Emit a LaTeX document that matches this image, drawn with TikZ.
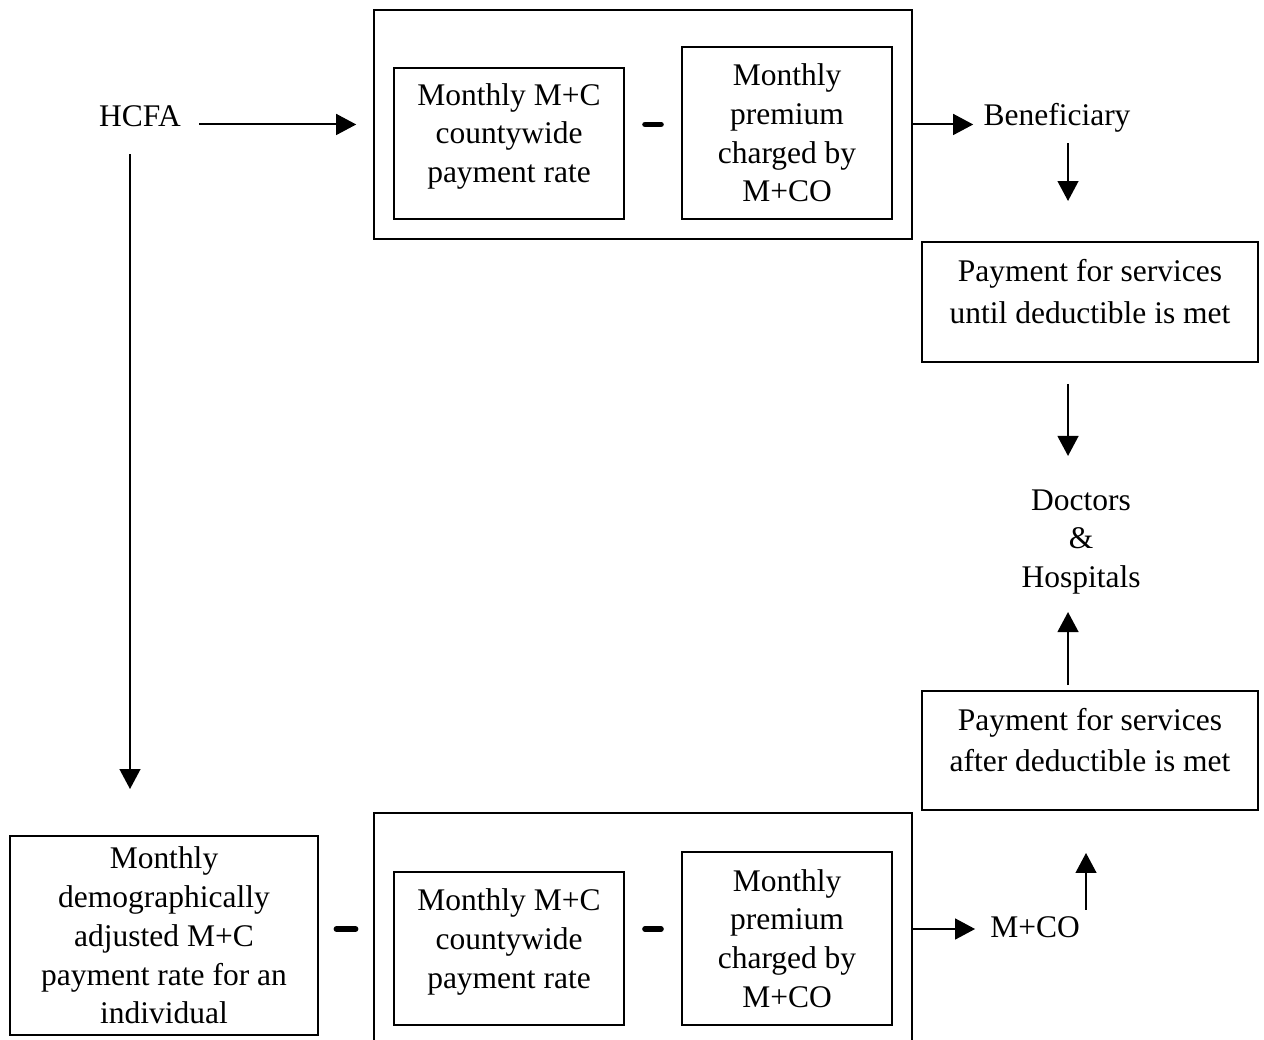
\documentclass[tikz,border=0pt]{standalone}
\usepackage{fontspec}
\setmainfont{Liberation Serif}
\usetikzlibrary{arrows.meta,calc}

\tikzset{
  box/.style={draw, align=center, inner sep=0pt},
  txt/.style={align=center},
  wide/.style={align=center, font=\fontsize{11.2}{14.9}\selectfont},
  minus/.style={line width=2pt, line cap=round},
}

\begin{document}
\begin{tikzpicture}[>={Triangle[length=0.25cm,width=0.26cm]}, line width=0.7pt,
  font=\fontsize{11.2}{13.8}\selectfont]

\clip (0,0) rectangle (15.8,-13);

% top row
\node[txt, anchor=base] (hcfa) at (1.75,-1.5875) {HCFA};
\node[box, minimum width=6.725cm, minimum height=2.8625cm] (topbox) at (8.0375,-1.556) {};
\node[box, minimum width=2.875cm, minimum height=1.8875cm] (topleft) at (6.3625,-1.794) {};
\node[txt] (topleftlbl) at ([yshift=0.09cm]topleft.center) {Monthly M+C\\countywide\\payment rate};
\node[box, minimum width=2.625cm, minimum height=2.15cm] (topright) at (9.8375,-1.6625)
  {Monthly\\premium\\charged by\\M+CO};
\node[txt, anchor=base] (ben) at (13.2125,-1.575) {Beneficiary};

% right column
\node[box, minimum width=4.2cm, minimum height=1.5cm] (untilbox) at (13.625,-3.775) {};
\node[wide] (untillbl) at ([yshift=0.125cm]untilbox.center) {Payment for services\\until deductible is met};
\node[txt] (doctors) at (13.5125,-6.775) {Doctors\\\&\\Hospitals};
\node[box, minimum width=4.2cm, minimum height=1.4875cm] (afterbox) at (13.625,-9.381) {};
\node[wide] (afterlbl) at ([yshift=0.13cm]afterbox.center) {Payment for services\\after deductible is met};

% bottom row
\node[box, minimum width=3.85cm, minimum height=2.4875cm] (leftbox) at (2.05,-11.694)
  {Monthly\\demographically\\adjusted M+C\\payment rate for an\\individual};
\node[box, minimum width=6.725cm, minimum height=2.9cm] (botbox) at (8.0375,-11.6125) {};
\node[box, minimum width=2.875cm, minimum height=1.9125cm] (botleft) at (6.3625,-11.856) {};
\node[txt] (botleftlbl) at ([yshift=0.08cm]botleft.center) {Monthly M+C\\countywide\\payment rate};
\node[box, minimum width=2.625cm, minimum height=2.1625cm] (botright) at (9.8375,-11.731)
  {Monthly\\premium\\charged by\\M+CO};
\node[txt, anchor=base] (mco) at (12.9375,-11.7125) {M+CO};

% minus signs
\coordinate (m1) at ($(topleft.east |- topbox.center)!0.5!(topright.west |- topbox.center)$);
\coordinate (m2) at ($(leftbox.east |- botbox.center)!0.5!(botbox.west)$);
\coordinate (m3) at ($(botleft.east |- botbox.center)!0.5!(botright.west |- botbox.center)$);
\draw[minus] ($(m1)+(-0.1,0)$) -- ($(m1)+(0.1,0)$);
\draw[minus] ($(m2)+(-0.12,0)$) -- ($(m2)+(0.12,0)$);
\draw[minus] ($(m3)+(-0.1,0)$) -- ($(m3)+(0.1,0)$);

% arrows
\coordinate (down) at (1.625,0);
\coordinate (col) at (13.35,0);
\coordinate (col2) at (13.575,0);
\draw[->, shorten <=0.1cm, shorten >=0.21cm] (hcfa.east |- topbox.west) -- (topbox.west);
\draw[->] (topbox.east) -- (topbox.east -| ben.west);
\draw[->, shorten >=0.5cm] (col |- ben.south) -- (col |- untilbox.north);
\draw[->, shorten <=0.26cm, shorten >=0.29cm] (col |- untilbox.south) -- (col |- doctors.north);
\draw[->, shorten <=0.06cm, shorten >=0.09cm] (col |- afterbox.north) -- (col |- doctors.south);
\draw[->, shorten >=0.06cm] (botbox.east) -- (botbox.east -| mco.west);
\draw[->, shorten <=0.21cm, shorten >=0.525cm] (col2 |- mco.center) -- (col2 |- afterbox.south);
\draw[->, shorten <=0.21cm, shorten >=0.575cm] (down |- hcfa.south) -- (down |- leftbox.north);

\end{tikzpicture}
\end{document}
